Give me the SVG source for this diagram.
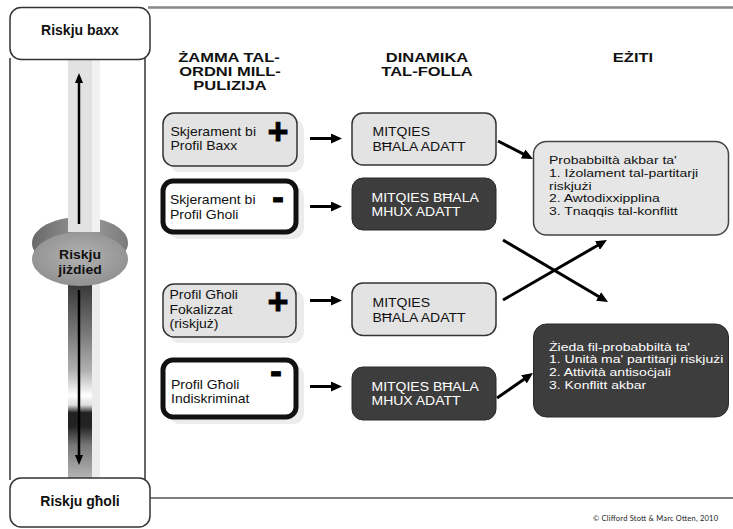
<svg xmlns="http://www.w3.org/2000/svg" width="733" height="529" viewBox="0 0 733 529">
<defs>
<style>
text{font-family:"Liberation Sans",Arial,sans-serif;fill:#111;}
.hd{font-size:16.5px;font-weight:bold;text-anchor:middle;}
.lbl{font-size:14px;font-weight:bold;text-anchor:middle;}
.t{font-size:14px;}
.tw{font-size:14px;fill:#fff;}
.sign{font-size:36px;font-weight:bold;text-anchor:middle;fill:#000;stroke:#000;stroke-width:0.8;}
.light{fill:#e3e3e3;stroke:#333;stroke-width:1.5;}
.heavy{fill:#fff;stroke:#111;stroke-width:5;}
.dark{fill:#3d3d3d;stroke:#2a2a2a;stroke-width:1;}
.outl{fill:#e6e6e6;stroke:#444;stroke-width:1.5;}
.shadow{fill:#ececec;}
.end{fill:#fff;stroke:#333;stroke-width:1.5;}
.conn{stroke:#000;stroke-width:3;fill:none;marker-end:url(#ah);}
.sl{stroke:#000;stroke-width:2.5;fill:none;marker-end:url(#sa);}
.frame{fill:none;}
</style>
<marker id="ah" markerUnits="userSpaceOnUse" markerWidth="12" markerHeight="10" refX="7" refY="5" orient="auto"><path d="M0,0 L11,5 L0,10 z" fill="#000"/></marker>
<marker id="sa" markerUnits="userSpaceOnUse" markerWidth="10" markerHeight="8" refX="6" refY="4" orient="auto"><path d="M0,0 L10,4 L0,8 z" fill="#000"/></marker>
<linearGradient id="lowTrack" gradientUnits="userSpaceOnUse" x1="0" y1="286" x2="0" y2="478">
<stop offset="0" stop-color="#3a3a3a"/>
<stop offset="0.24" stop-color="#777"/>
<stop offset="0.44" stop-color="#b0b0b0"/>
<stop offset="0.57" stop-color="#fff"/>
<stop offset="0.62" stop-color="#ddd"/>
<stop offset="0.66" stop-color="#222"/>
<stop offset="0.73" stop-color="#222"/>
<stop offset="0.83" stop-color="#777"/>
<stop offset="1" stop-color="#b5b5b5"/>
</linearGradient>
<linearGradient id="knobBack" x1="0" y1="0" x2="1" y2="0">
<stop offset="0" stop-color="#6a6a6a"/>
<stop offset="0.6" stop-color="#9a9a9a"/>
<stop offset="1" stop-color="#7a7a7a"/>
</linearGradient>
<radialGradient id="knobFront" cx="0.5" cy="0.45" r="0.6">
<stop offset="0" stop-color="#b2b2b2"/>
<stop offset="1" stop-color="#8e8e8e"/>
</radialGradient>
</defs>

<rect width="733" height="529" fill="#fff"/>

<g id="frame">
<line class="frame" x1="148" y1="7.5" x2="733" y2="7.5" stroke-width="2.5" stroke="#888"/>
<line class="frame" x1="150" y1="498" x2="733" y2="498" stroke-width="1.5" stroke="#555"/>
<line class="frame" x1="10" y1="58" x2="10" y2="480" stroke-width="2" stroke="#666"/>
<line class="frame" x1="145" y1="58" x2="145" y2="480" stroke-width="2" stroke="#666"/>
</g>

<g id="slider">
<rect x="68" y="60" width="24" height="180" fill="#e2e2e2"/>
<rect x="92" y="60" width="8" height="180" fill="#f1f1f1"/>
<ellipse cx="80" cy="243" rx="48" ry="26" fill="url(#knobBack)"/>
<rect x="68" y="60" width="24" height="172" fill="#e2e2e2"/>
<rect x="92" y="60" width="8" height="172" fill="#f1f1f1"/>
<rect x="68" y="280" width="24" height="198" fill="url(#lowTrack)"/>
<rect x="92" y="280" width="8" height="198" fill="#ececec"/>
<ellipse cx="80" cy="259" rx="48" ry="27" fill="url(#knobFront)"/>
<line class="sl" x1="79" y1="224" x2="79" y2="77"/>
<line class="sl" x1="79" y1="290" x2="79" y2="461"/>
<text class="lbl" transform="translate(80,258.5) scale(1,0.93)">Riskju</text>
<text class="lbl" transform="translate(80,274) scale(1,0.93)">jiżdied</text>
</g>

<g id="risk-low">
<rect class="end" x="10" y="7.5" width="140" height="52" rx="11"/>
<text class="lbl" x="80" y="35">Riskju baxx</text>
</g>
<g id="risk-high">
<rect class="end" x="10" y="478" width="140" height="49" rx="11"/>
<text class="lbl" x="80" y="506">Riskju għoli</text>
</g>

<g id="headers">
<text class="hd" transform="translate(229,61.5) scale(1,0.8)">ŻAMMA TAL-</text>
<text class="hd" transform="translate(230,75.5) scale(1,0.8)">ORDNI MILL-</text>
<text class="hd" transform="translate(230,89.5) scale(1,0.8)">PULIZIJA</text>
<text class="hd" transform="translate(427,61.5) scale(1,0.8)">DINAMIKA</text>
<text class="hd" transform="translate(427,75.5) scale(1,0.8)">TAL-FOLLA</text>
<text class="hd" transform="translate(633,61.5) scale(1,0.8)">EŻITI</text>
</g>

<g id="box-a">
<rect class="shadow" x="169" y="119" width="135" height="53" rx="11"/>
<rect class="light" x="163" y="113" width="134" height="53" rx="11"/>
<text class="t" transform="translate(170.5,135.5) scale(1,0.92)">Skjerament bi</text>
<text class="t" transform="translate(170.5,150) scale(1,0.92)">Profil Baxx</text>
<text class="sign" x="278" y="144">+</text>
</g>

<g id="box-b">
<rect class="shadow" x="169" y="186" width="135" height="53" rx="11"/>
<rect class="heavy" x="163" y="181" width="133" height="51" rx="10"/>
<text class="t" transform="translate(170,204) scale(1,0.92)">Skjerament bi</text>
<text class="t" transform="translate(170,218.5) scale(1,0.92)">Profil Gholi</text>
<text class="sign" x="278" y="209">-</text>
</g>

<g id="box-c">
<rect class="shadow" x="169" y="290" width="135" height="53" rx="11"/>
<rect class="light" x="163" y="284" width="133" height="53" rx="11"/>
<text class="t" transform="translate(169.5,299) scale(1,0.92)">Profil Għoli</text>
<text class="t" transform="translate(169.5,313.5) scale(1,0.92)">Fokalizzat</text>
<text class="t" transform="translate(169.5,328) scale(1,0.92)">(riskjuż)</text>
<text class="sign" x="278" y="314">+</text>
</g>

<g id="box-d">
<rect class="shadow" x="169" y="365" width="135" height="59" rx="11"/>
<rect class="heavy" x="163" y="360" width="133" height="57" rx="10"/>
<text class="t" transform="translate(171,388.5) scale(1,0.92)">Profil Għoli</text>
<text class="t" transform="translate(171,403) scale(1,0.92)">Indiskriminat</text>
<text class="sign" x="276" y="383">-</text>
</g>

<g id="box-e">
<rect class="light" x="352" y="113" width="144" height="52" rx="11"/>
<text class="t" transform="translate(372.5,136) scale(1,0.92)">MITQIES</text>
<text class="t" transform="translate(372.5,150.5) scale(1,0.92)">BĦALA ADATT</text>
</g>
<g id="box-f">
<rect class="dark" x="352" y="178" width="144" height="52" rx="11"/>
<text class="tw" transform="translate(371.5,201.5) scale(1,0.92)">MITQIES BĦALA</text>
<text class="tw" transform="translate(371.5,216) scale(1,0.92)">MHUX ADATT</text>
</g>
<g id="box-g">
<rect class="light" x="352" y="283" width="144" height="52.5" rx="11"/>
<text class="t" transform="translate(372.5,306.5) scale(1,0.92)">MITQIES</text>
<text class="t" transform="translate(372.5,321.5) scale(1,0.92)">BĦALA ADATT</text>
</g>
<g id="box-h">
<rect class="dark" x="352" y="367" width="144" height="53" rx="11"/>
<text class="tw" transform="translate(371.5,390.5) scale(1,0.92)">MITQIES BĦALA</text>
<text class="tw" transform="translate(371.5,405) scale(1,0.92)">MHUX ADATT</text>
</g>

<g id="box-i">
<rect class="outl" x="533.5" y="141.5" width="195" height="93.5" rx="13"/>
<text class="t" transform="translate(549,164) scale(1,0.84)">Probabbiltà akbar ta'</text>
<text class="t" transform="translate(549,176.8) scale(1,0.84)">1. Iżolament tal-partitarji</text>
<text class="t" transform="translate(549,189.5) scale(1,0.84)">riskjużi</text>
<text class="t" transform="translate(549,202.3) scale(1,0.84)">2. Awtodixxipplina</text>
<text class="t" transform="translate(549,215) scale(1,0.84)">3. Tnaqqis tal-konflitt</text>
</g>
<g id="box-j">
<rect class="dark" x="533.5" y="324" width="195" height="93" rx="13"/>
<text class="tw" transform="translate(549,350.5) scale(1,0.84)">Żieda fil-probabbiltà ta'</text>
<text class="tw" transform="translate(549,363.3) scale(1,0.84)">1. Unità ma' partitarji riskjużi</text>
<text class="tw" transform="translate(549,376.1) scale(1,0.84)">2. Attività antisoċjali</text>
<text class="tw" transform="translate(549,389) scale(1,0.84)">3. Konflitt akbar</text>
</g>

<g id="connectors">
<line class="conn" x1="310" y1="138.5" x2="338" y2="138.5"/>
<line class="conn" x1="310" y1="206.5" x2="338" y2="206.5"/>
<line class="conn" x1="310" y1="300.5" x2="338" y2="300.5"/>
<line class="conn" x1="310" y1="386.5" x2="338" y2="386.5"/>
<line class="conn" x1="498" y1="141" x2="529.4" y2="157.2"/>
<line class="conn" x1="497" y1="398" x2="529.7" y2="375.3"/>
<line class="conn" x1="503" y1="240" x2="604.6" y2="300"/>
<line class="conn" x1="503" y1="300" x2="603.5" y2="242"/>
</g>

<text x="718" y="520.5" text-anchor="end" font-size="7.5" textLength="125" style="font-family:Lato,'Open Sans',sans-serif;fill:#222">© Clifford Stott &amp; Marc Otten, 2010</text>
</svg>
